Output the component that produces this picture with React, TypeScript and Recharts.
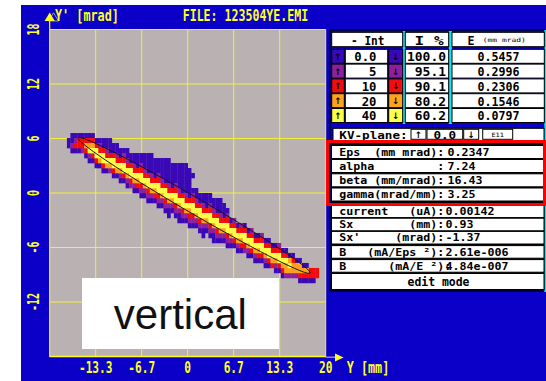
import React from 'react';
import { ScatterChart, Scatter, XAxis, YAxis, CartesianGrid, Customized } from 'recharts';

// ---------- axes ----------
const xTicks = [-13.333, -6.667, 0, 6.667, 13.333, 20];
const xTickLabels = ['-13.3', '-6.7', '0', '6.7', '13.3', '20'];
const yTicks = [-12, -6, 0, 6, 12, 18];
const yTickLabels = ['-12', '-6', '0', '6', '12', '18'];
const X_DOMAIN: [number, number] = [-20, 20];
const Y_DOMAIN: [number, number] = [-18, 18];

// ---------- intensity levels ----------
const levelColors = ['#3a08b6', '#8e209c', '#f20c0c', '#ffa21c', '#ffff48'];
const intThresholds = ['0.0', '5', '10', '20', '40'];
const intPercent = ['100.0', '95.1', '90.1', '80.2', '60.2'];
const intEmittance = ['0.5457', '0.2996', '0.2306', '0.1546', '0.0797'];

// ---------- density map ----------
// cell grid: column c covers x = -20 + 0.5c .. +0.5 mm, row r covers y = 6.6 - 0.55r .. -0.55 mrad
const MAP_X0 = -20;
const MAP_DX = 0.5;
const MAP_Y0 = 6.6;
const MAP_DY = 0.55;
// [column, first row, levels from top to bottom]  ('.' = empty cell)
const densityColumns: [number, number, string][] = [
  [5, 1, '00'],
  [6, 0, '0010'],
  [7, 0, '0120'],
  [8, 0, '0220'],
  [9, 0, '0221'],
  [10, 0, '02320'],
  [11, 0, '023410'],
  [12, 0, '023420'],
  [13, 1, '024420'],
  [14, 1, '012430'],
  [15, 1, '0024420'],
  [16, 1, '0012430'],
  [17, 1, '0002431'],
  [18, 2, '0024420'],
  [19, 2, '0012430'],
  [20, 3, '0024310'],
  [21, 3, '0124420'],
  [22, 3, '00124310'],
  [23, 4, '0024421'],
  [24, 4, '00124310'],
  [25, 4, '00024320'],
  [26, 4, '001244210'],
  [27, 4, '000124310'],
  [28, 4, '0000244210'],
  [29, 4, '0000124310'],
  [30, 5, '000024320'],
  [31, 5, '0001244210'],
  [32, 5, '0000124310'],
  [33, 5, '00000244210'],
  [34, 5, '000001243100'],
  [35, 6, '0000024310'],
  [36, 6, '00001244210'],
  [37, 6, '000001243100'],
  [38, 6, '000000244210'],
  [39, 6, '000000124310'],
  [40, 7, '000000243210'],
  [41, 8, '0..01244210'],
  [42, 11, '00124310'],
  [43, 12, '00244210'],
  [44, 12, '001243100'],
  [45, 12, '00024310'],
  [46, 12, '001244210'],
  [47, 13, '001243100'],
  [48, 13, '000244210'],
  [49, 13, '000124310'],
  [50, 14, '00024310'],
  [51, 15, '01244210'],
  [52, 17, '024310'],
  [53, 17, '124420'],
  [54, 18, '024310'],
  [55, 18, '124320'],
  [56, 18, '024421'],
  [57, 19, '024310'],
  [58, 19, '124420'],
  [59, 20, '024310'],
  [60, 20, '024320'],
  [61, 20, '124420'],
  [62, 21, '024310'],
  [63, 21, '024420'],
  [64, 22, '02432'],
  [65, 22, '024310'],
  [66, 22, '124420'],
  [67, 23, '024320'],
  [68, 23, '024331'],
  [69, 24, '03431'],
  [70, 24, '02331'],
  [71, 25, '0331'],
  [72, 25, '03320'],
  [73, 26, '0320'],
  [74, 26, '0320'],
  [75, 27, '220'],
  [76, 27, '220'],
  [77, 27, '22'],
];

// ---------- beam parameters ----------
const twissLabels = ['Eps  (mm mrad):', 'alpha         :', 'beta (mm/mrad):', 'gamma(mrad/mm):'];
const twissValues = ['0.2347', '7.24', '16.43', '3.25'];
const beamLabels = ['current   (uA):', 'Sx        (mm):', "Sx'     (mrad):", 'B   (mA/Eps \u00b2):', 'B      (mA/E \u00b2):'];
const beamValues = ['0.00142', '0.93', '-1.37', '2.61e-006', '4.84e-007'];
const ALPHA = 7.24;
const BETA = 16.43;
const CENTER_X = 0.93;
const CENTER_XP = -1.37;
const ELLIPSE_AREA = 17.2; // mm mrad, size of the drawn outline

// ---------- layout ----------
const W = 546;
const H = 381;
const MARGIN = { top: 29.5, right: 220.3, bottom: 0, left: 21 };
const Y_AXIS_W = 28.7;
const X_AXIS_H = 24.5;
const PLOT_W = W - MARGIN.left - MARGIN.right - Y_AXIS_W;
const PLOT_H = H - MARGIN.top - MARGIN.bottom - X_AXIS_H;
const CELL_PX_W = (MAP_DX * PLOT_W) / (X_DOMAIN[1] - X_DOMAIN[0]);
const CELL_PX_H = (MAP_DY * PLOT_H) / (Y_DOMAIN[1] - Y_DOMAIN[0]);

const BG_BLUE = '#0a00c8';
const YELLOW = '#ffff1e';
const MONO = "'DejaVu Sans Mono', 'Liberation Mono', monospace";
const MONO_ADVANCE = 0.602; // em width of one DejaVu Sans Mono glyph

const cellsByLevel: { x: number; y: number }[][] = levelColors.map(() => []);
densityColumns.forEach(([col, row0, levels]) => {
  levels.split('').forEach((ch, i) => {
    if (ch === '.') return;
    cellsByLevel[Number(ch)].push({
      x: MAP_X0 + (col + 0.5) * MAP_DX,
      y: MAP_Y0 - (row0 + i + 0.5) * MAP_DY,
    });
  });
});

// emittance ellipse from the Twiss parameters
const ellipsePoints = Array.from({ length: 145 }, (_, k) => {
  const t = (2 * Math.PI * k) / 144;
  return {
    x: CENTER_X + Math.sqrt(ELLIPSE_AREA * BETA) * Math.cos(t),
    y: CENTER_XP - Math.sqrt(ELLIPSE_AREA / BETA) * (ALPHA * Math.cos(t) + Math.sin(t)),
  };
});

type MonoProps = {
  x: number;
  y: number;
  text: string;
  size: number;
  pitch: number;
  anchor?: 'start' | 'middle' | 'end';
  fill?: string;
  weight?: number;
};

// narrow terminal-style text: a monospace face squeezed to the given character pitch
const Mono = ({ x, y, text, size, pitch, anchor = 'start', fill = '#000', weight = 700 }: MonoProps) => {
  const sx = pitch / (MONO_ADVANCE * size);
  return (
    <text
      transform={`translate(${x}, ${y}) scale(${sx}, 1)`}
      x={0}
      y={0}
      fontFamily={MONO}
      fontSize={size}
      fontWeight={weight}
      fill={fill}
      textAnchor={anchor}
      style={{ whiteSpace: 'pre' }}
    >
      {text}
    </text>
  );
};

const CellShape = (props: any) => (
  <rect
    x={props.cx - CELL_PX_W / 2}
    y={props.cy - CELL_PX_H / 2}
    width={CELL_PX_W + 0.3}
    height={CELL_PX_H + 0.3}
    fill={props.fill}
  />
);

const XTick = (props: any) => {
  const idx = xTicks.indexOf(props.payload?.value);
  const label = xTickLabels[idx >= 0 ? idx : props.index];
  return <Mono x={props.x} y={373.3} text={label} size={15.5} pitch={6.7} anchor="middle" fill={YELLOW} />;
};

const YTick = (props: any) => {
  const idx = yTicks.indexOf(props.payload?.value);
  const label = yTickLabels[idx >= 0 ? idx : props.index];
  return (
    <g transform={`translate(33.7, ${props.y}) rotate(-90)`}>
      <Mono x={0} y={5.5} text={label} size={16} pitch={6} anchor="middle" fill={YELLOW} />
    </g>
  );
};

const Arrow = ({ x, y, up }: { x: number; y: number; up: boolean }) => (
  <text x={x} y={y} fontFamily="'DejaVu Sans', sans-serif" fontWeight={700} fontSize={9} textAnchor="middle" fill="#000">
    {up ? '\u2191' : '\u2193'}
  </text>
);

const intRowTops = [49.3, 64.1, 78.9, 93.7, 108.5];
const twissRowTops = [145.5, 159.5, 173.8, 188];
const beamRowTops = [205, 218.2, 231.4, 245.6, 259.6];

const TABLE_FONT = 12.4;
const ROW_FONT = 11.3;

const Decorations = () => (
  <g>
    {/* vertical axis arrow and title */}
    <line x1={49.7} y1={20.5} x2={49.7} y2={29.5} stroke={YELLOW} strokeWidth={1.2} />
    <polygon points="48.5,21 53.5,12.8 58.5,21" fill="none" stroke="#b8b8d8" strokeWidth={0.8} />
    <polygon points="44.6,21 49.7,12.5 54.8,21" fill={YELLOW} />
    <Mono x={55} y={20.8} text="Y' [mrad]" size={15.5} pitch={7.1} fill={YELLOW} />
    <Mono x={182.7} y={20.8} text="FILE: 123504YE.EMI" size={15.5} pitch={6.98} fill={YELLOW} />

    {/* horizontal axis arrow and title */}
    <line x1={325.7} y1={357.2} x2={336} y2={357.2} stroke="#b0b0b0" strokeWidth={1.2} />
    <polygon points="335,353.4 343.6,357.5 335,361.6" fill={YELLOW} />
    <Mono x={346.7} y={373.3} text="Y [mm]" size={15.5} pitch={7.1} fill={YELLOW} />

    {/* side panel frame */}
    <rect x={330} y={30} width={215} height={261} fill={BG_BLUE} stroke="#000" strokeWidth={1.2} />
    <rect x={544.3} y={30} width={1.7} height={262} fill="#10e8f0" />
    <rect x={402.7} y={31} width={2.6} height={93} fill="#10e8f0" />
    <rect x={448.7} y={31} width={3.3} height={93} fill="#10e8f0" />

    {/* intensity table header */}
    <rect x={331.7} y={32.3} width={71} height={14.4} fill="#fff" stroke="#000" />
    <rect x={405.3} y={32.3} width={43.4} height={14.4} fill="#fff" stroke="#000" />
    <rect x={452} y={32.3} width={92.3} height={14.4} fill="#fff" stroke="#000" />
    <Mono x={351} y={44.6} text="- Int" size={TABLE_FONT} pitch={6.7} />
    <Mono x={414.5} y={44.6} text="I %" size={TABLE_FONT} pitch={9.7} />
    <Mono x={467.5} y={44.6} text="E" size={TABLE_FONT} pitch={7} />
    <Mono x={482.7} y={42} text="(mm mrad)" size={6} pitch={4.8} weight={400} />

    {/* intensity table rows */}
    {intThresholds.map((thr, i) => {
      const top = intRowTops[i];
      return (
        <g key={thr}>
          <rect x={331.7} y={top} width={12.6} height={14} fill={levelColors[i]} stroke="#000" />
          <Arrow x={338} y={top + 10.5} up />
          <rect x={345.3} y={top} width={42.4} height={14} fill="#fff" stroke="#000" />
          <Mono x={376.5} y={top + 11.8} text={thr} size={TABLE_FONT} pitch={7.4} anchor="end" />
          <rect x={388.7} y={top} width={14} height={14} fill={levelColors[i]} stroke="#000" />
          <Arrow x={395.7} y={top + 10.5} up={false} />
          <rect x={405.3} y={top} width={43.4} height={14} fill="#fff" stroke="#000" />
          <Mono x={446} y={top + 11.8} text={intPercent[i]} size={TABLE_FONT} pitch={7.8} anchor="end" />
          <rect x={452} y={top} width={92.3} height={14} fill="#fff" stroke="#000" />
          <Mono x={498.5} y={top + 11.8} text={intEmittance[i]} size={TABLE_FONT} pitch={7} anchor="middle" />
        </g>
      );
    })}

    {/* KV-plane selector */}
    <rect x={333} y={128.3} width={211} height={12.4} fill="#fff" stroke="#000" />
    <Mono x={339.3} y={138.6} text="KV-plane:" size={ROW_FONT} pitch={7.6} />
    <rect x={411} y={129.3} width={15} height={10} fill="#fff" stroke="#000" />
    <Arrow x={418.5} y={137.5} up />
    <rect x={427} y={129.3} width={35.7} height={10} fill="#fff" stroke="#000" />
    <Mono x={444.8} y={138.6} text="0.0" size={ROW_FONT} pitch={7.6} anchor="middle" />
    <rect x={463.7} y={129.3} width={15} height={10} fill="#fff" stroke="#000" />
    <Arrow x={471.2} y={137.5} up={false} />
    <rect x={482.7} y={129.3} width={30} height={10} fill="#fff" stroke="#000" />
    <Mono x={497.7} y={136.8} text="E11" size={6} pitch={4.2} anchor="middle" weight={400} />

    {/* parameter rows */}
    <rect x={331} y={143} width={213.3} height={147.5} fill="#000" />
    {twissLabels.map((label, i) => (
      <g key={label}>
        <rect x={331.5} y={twissRowTops[i]} width={212.5} height={13} fill="#fff" stroke="#000" />
        <Mono x={339.3} y={twissRowTops[i] + 10.3} text={label} size={ROW_FONT} pitch={7} />
        <Mono x={447.5} y={twissRowTops[i] + 10.3} text={twissValues[i]} size={ROW_FONT} pitch={7} />
      </g>
    ))}
    {beamLabels.map((label, i) => (
      <g key={label}>
        <rect x={331.5} y={beamRowTops[i]} width={212.5} height={12.6} fill="#fff" stroke="#000" />
        <Mono x={339.3} y={beamRowTops[i] + 10} text={label} size={ROW_FONT} pitch={7} />
        <Mono x={445.5} y={beamRowTops[i] + 10} text={beamValues[i]} size={ROW_FONT} pitch={7} />
      </g>
    ))}
    <rect x={331.5} y={273.5} width={212.5} height={16} fill="#fff" stroke="#000" />
    <Mono x={438.5} y={285.5} text="edit mode" size={12} pitch={6.9} anchor="middle" />

    {/* highlight around the Twiss parameters */}
    <rect x={327.5} y={141.5} width={217} height={63} fill="none" stroke="#ff0000" strokeWidth={3} />
  </g>
);

export default function App() {
  return (
    <div style={{ position: 'absolute', left: 0, top: 0, width: W, height: H, overflow: 'hidden' }}>
      <div style={{ position: 'absolute', left: 21, top: 5, width: W - 21, height: H - 5, background: BG_BLUE }} />
      <div style={{ position: 'absolute', left: 0, top: 0 }}>
        <ScatterChart width={W} height={H} margin={MARGIN}>
          <CartesianGrid fill="#bab2b2" stroke="#f0f03a" strokeWidth={1} />
          <XAxis
            type="number"
            dataKey="x"
            domain={X_DOMAIN}
            ticks={xTicks}
            interval={0}
            height={X_AXIS_H}
            tick={<XTick />}
            tickLine={false}
            axisLine={{ stroke: YELLOW, strokeWidth: 1.5 }}
          />
          <YAxis
            type="number"
            dataKey="y"
            domain={Y_DOMAIN}
            ticks={yTicks}
            interval={0}
            width={Y_AXIS_W}
            tick={<YTick />}
            tickLine={false}
            axisLine={{ stroke: '#dcd890', strokeWidth: 1 }}
          />
          {cellsByLevel.map((cells, lv) => (
            <Scatter
              key={lv}
              data={cells}
              fill={levelColors[lv]}
              shape={CellShape}
              isAnimationActive={false}
            />
          ))}
          <Scatter
            data={ellipsePoints}
            line={{ stroke: '#141414', strokeWidth: 1 }}
            lineJointType="linear"
            shape={() => <g />}
            isAnimationActive={false}
          />
          <Customized component={Decorations} />
        </ScatterChart>
      </div>
      <div
        style={{
          position: 'absolute',
          left: 82,
          top: 278.3,
          width: 196.7,
          height: 70.7,
          background: '#ffffff',
        }}
      >
        <div
          style={{
            position: 'absolute',
            left: 0,
            top: 15.7,
            width: '100%',
            textAlign: 'center',
            fontFamily: "'Liberation Sans', Arial, sans-serif",
            fontSize: 42,
            lineHeight: '42px',
            color: '#111',
          }}
        >
          vertical
        </div>
      </div>
    </div>
  );
}
